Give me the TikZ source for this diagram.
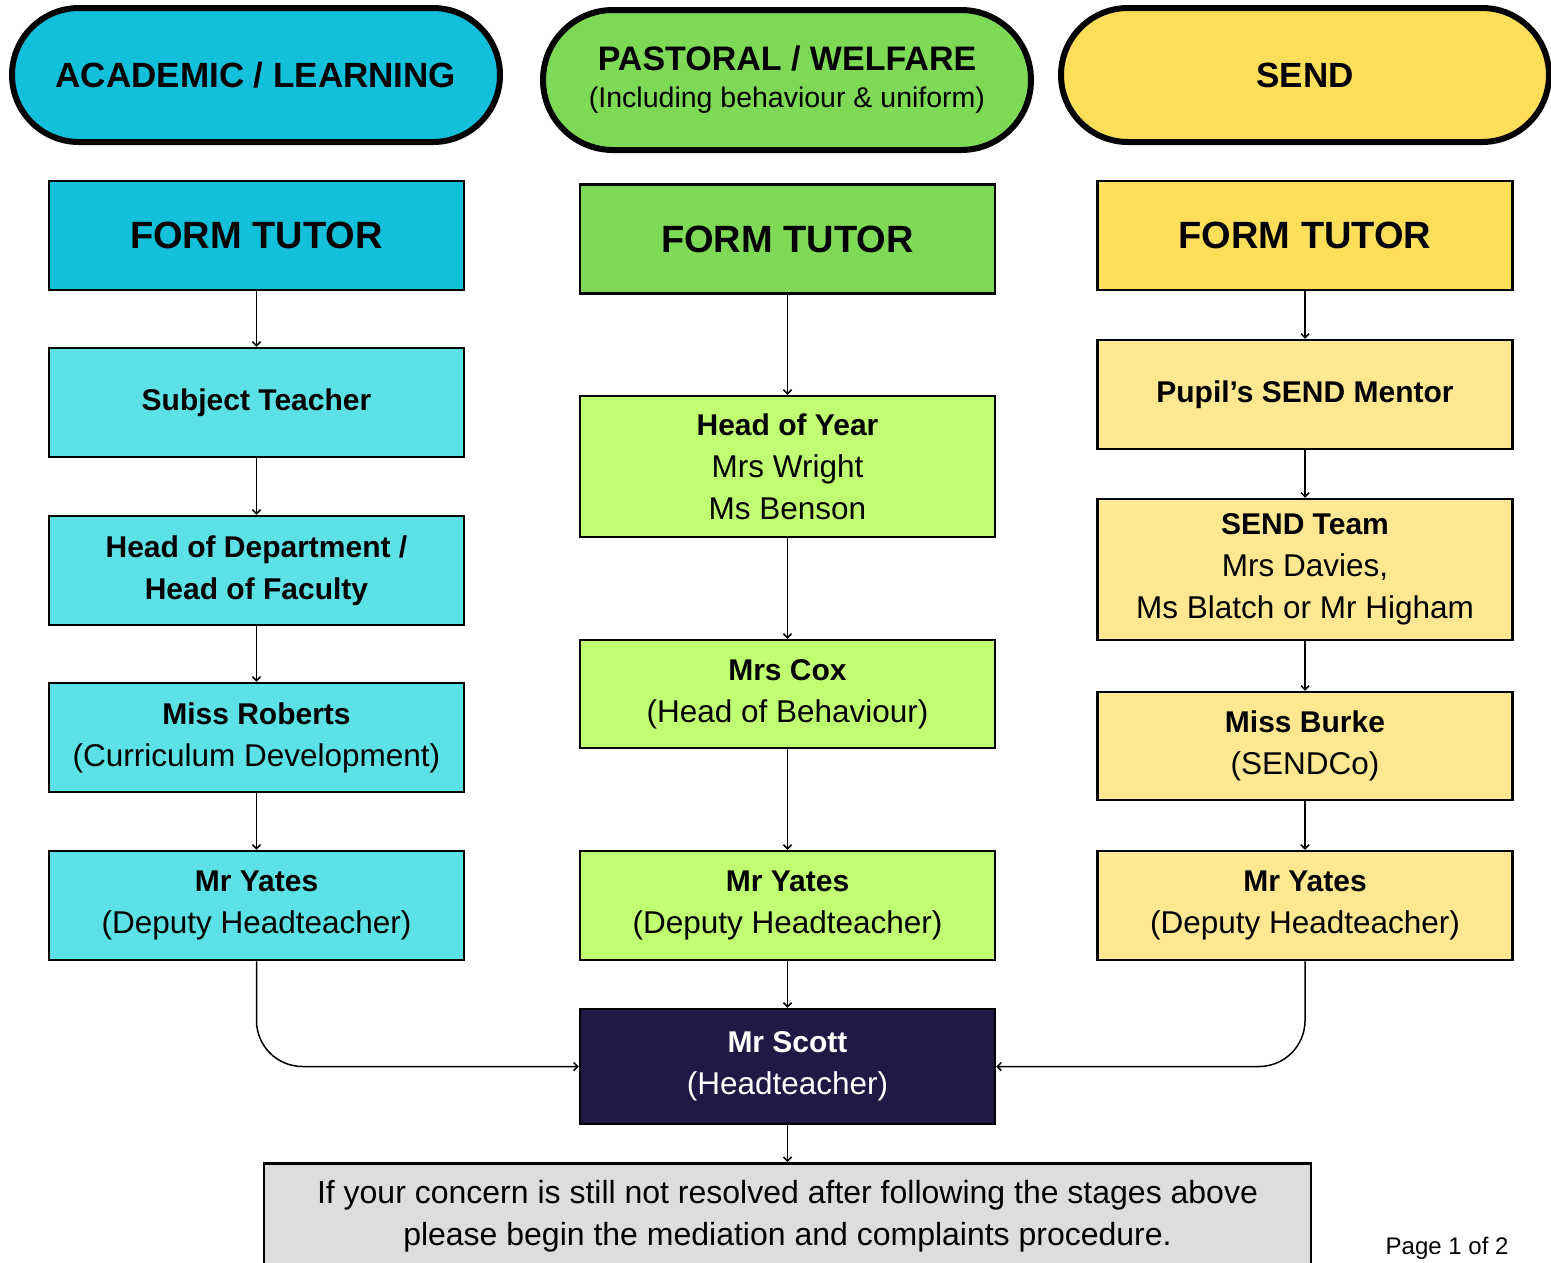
\documentclass[tikz,border=0pt]{standalone}
\usepackage{fontspec}
\setmainfont{Liberation Sans}
\usetikzlibrary{arrows.meta,positioning}
\definecolor{acadhead}{HTML}{12C0DC}
\definecolor{acadbox}{HTML}{5CE1E6}
\definecolor{pasthead}{HTML}{7ED957}
\definecolor{pastbox}{HTML}{C1FF72}
\definecolor{sendhead}{HTML}{FFDE59}
\definecolor{sendbox}{HTML}{FFE891}
\definecolor{headteach}{HTML}{201845}
\definecolor{lastbox}{HTML}{DDDDDD}
\newcommand{\boldline}[1]{{\fontsize{30}{42}\selectfont\bfseries #1}}

\begin{document}
\begin{tikzpicture}[x=1pt,y=-1pt,
    head/.style={draw,line width=6pt,rounded corners=67,minimum width=488,minimum height=134,align=center,font=\fontsize{35}{40}\selectfont\bfseries},
    tutor/.style={draw,line width=2.5pt,minimum width=415,minimum height=109,align=center,font=\fontsize{38}{42}\selectfont\bfseries},
    stagebox/.style={draw,line width=2.5pt,minimum width=415,minimum height=109,align=center,font=\fontsize{31.5}{42}\selectfont},
    conn/.style={-{Straight Barb[length=4pt,width=8pt]},line width=1.5pt}]
       \useasboundingbox (0,0) rectangle (1551,1262);

       % headers
       \node[head,fill=acadhead] (acad) at (256,75) {ACADEMIC / LEARNING};
       \node[head,fill=pasthead,minimum height=140,rounded corners=70,font=\fontsize{34}{40}\selectfont\bfseries] (past) at (787,80) {PASTORAL / WELFARE\\[-3pt]{\fontsize{28.5}{32}\selectfont\mdseries (Including behaviour \& uniform)}};
       \node[head,fill=sendhead] (send) at (1305,75) {SEND};

       % academic column
       \node[tutor,fill=acadhead] (ft1) at (256.5,235.5) {FORM TUTOR};
       \node[stagebox,fill=acadbox] (subj) at (256.5,402.5) {\boldline{Subject Teacher}};
       \node[stagebox,fill=acadbox] (hod) at (256.5,570.5) {\boldline{Head of Department /}\\\boldline{Head of Faculty}};
       \node[stagebox,fill=acadbox] (rob) at (256.5,737.5) {\boldline{Miss Roberts}\\(Curriculum Development)};
       \node[stagebox,fill=acadbox] (my1) at (256.5,905.5) {\boldline{Mr Yates}\\(Deputy Headteacher)};

       % pastoral column
       \node[tutor,fill=pasthead] (ft2) at (787.5,239) {FORM TUTOR};
       \node[stagebox,fill=pastbox,minimum height=141] (hoy) at (787.5,466.5) {\boldline{Head of Year}\\Mrs Wright\\Ms Benson};
       \node[stagebox,fill=pastbox,minimum height=108] (cox) at (787.5,694) {\boldline{Mrs Cox}\\(Head of Behaviour)};
       \node[stagebox,fill=pastbox] (my2) at (787.5,905.5) {\boldline{Mr Yates}\\(Deputy Headteacher)};
       \node[stagebox,fill=headteach,text=white,minimum height=115] (scott) at (787.5,1066.5) {\boldline{Mr Scott}\\(Headteacher)};

       % send column
       \node[tutor,fill=sendhead] (ft3) at (1305,235.5) {FORM TUTOR};
       \node[stagebox,fill=sendbox] (mentor) at (1305,394.5) {\boldline{Pupil’s SEND Mentor}};
       \node[stagebox,fill=sendbox,minimum height=141] (team) at (1305,569.5) {\boldline{SEND Team}\\Mrs Davies,\\Ms Blatch or Mr Higham};
       \node[stagebox,fill=sendbox,minimum height=108] (burke) at (1305,746) {\boldline{Miss Burke}\\(SENDCo)};
       \node[stagebox,fill=sendbox] (my3) at (1305,905.5) {\boldline{Mr Yates}\\(Deputy Headteacher)};

       % complaints
       \node[stagebox,fill=lastbox,minimum width=1047,minimum height=150,anchor=north] (compl) at (787.5,1162) {};
       \node[font=\fontsize{32}{42}\selectfont,align=center] (compltext) at (787.5,1216) {If your concern is still not resolved after following the stages above\\please begin the mediation and complaints procedure.};
       \node[font=\fontsize{24}{28}\selectfont,anchor=base east] (page) at (1512,1254) {Page 1 of 2};

       \draw[conn] (ft1) -- (subj);
       \draw[conn] (subj) -- (hod);
       \draw[conn] (hod) -- (rob);
       \draw[conn] (rob) -- (my1);
       \draw[conn] (ft2) -- (hoy);
       \draw[conn] (hoy) -- (cox);
       \draw[conn] (cox) -- (my2);
       \draw[conn] (my2) -- (scott);
       \draw[conn] (ft3) -- (mentor);
       \draw[conn] (mentor) -- (team);
       \draw[conn] (team) -- (burke);
       \draw[conn] (burke) -- (my3);
       \draw[conn,rounded corners=46] (my1.south) |- (scott.west);
       \draw[conn,rounded corners=46] (my3.south) |- (scott.east);
       \draw[conn] (scott) -- (compl);
     \end{tikzpicture}
\end{document}
